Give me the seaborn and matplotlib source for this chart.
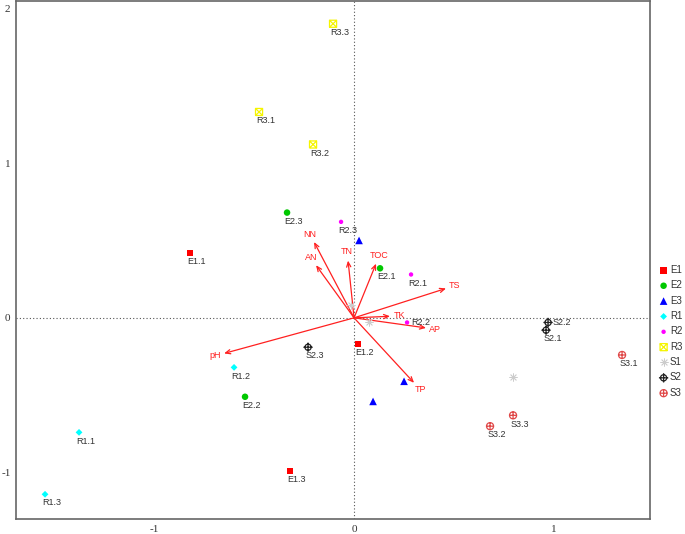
import numpy as np
import pandas as pd
import seaborn as sns
from matplotlib import pyplot as plt
from matplotlib.path import Path

# sample scores (RDA site scores)
groups = ['E1', 'E2', 'E3', 'R1', 'R2', 'R3', 'S1', 'S2', 'S3']

site_names = ['E1.1', 'E1.2', 'E1.3',
              'E2.1', 'E2.2', 'E2.3',
              '', '', '',
              'R1.1', 'R1.2', 'R1.3',
              'R2.1', 'R2.2', 'R2.3',
              'R3.1', 'R3.2', 'R3.3',
              '', '', '',
              'S2.1', 'S2.2', 'S2.3',
              'S3.1', 'S3.2', 'S3.3']
site_group = ['E1'] * 3 + ['E2'] * 3 + ['E3'] * 3 + ['R1'] * 3 + ['R2'] * 3 + \
             ['R3'] * 3 + ['S1'] * 3 + ['S2'] * 3 + ['S3'] * 3
site_x = [-0.82, 0.02, -0.32,
          0.13, -0.545, -0.335,
          0.025, 0.25, 0.095,
          -1.375, -0.60, -1.545,
          0.285, 0.265, -0.065,
          -0.475, -0.205, -0.105,
          -0.015, 0.075, 0.795,
          0.96, 0.97, -0.23,
          1.34, 0.68, 0.795]
site_y = [0.42, -0.17, -0.99,
          0.32, -0.51, 0.68,
          0.50, -0.41, -0.54,
          -0.74, -0.32, -1.14,
          0.28, -0.03, 0.62,
          1.33, 1.12, 1.90,
          0.08, -0.03, -0.38,
          -0.08, -0.03, -0.19,
          -0.24, -0.70, -0.63]

# environmental vectors
env_names = ['NN', 'AN', 'TN', 'TOC', 'TS', 'TK', 'AP', 'TP', 'pH']
env_x = [-0.20, -0.19, -0.03, 0.11, 0.46, 0.18, 0.36, 0.30, -0.65]
env_y = [0.49, 0.34, 0.37, 0.35, 0.19, 0.01, -0.065, -0.42, -0.23]

sites = pd.DataFrame({'name': site_names, 'group': site_group, 'x': site_x, 'y': site_y})

# marker shapes (R style pch 7, 9, 10)
box_x = Path.make_compound_path(
    Path([(-1, -1), (1, -1), (1, 1), (-1, 1), (-1, -1)]),
    Path([(-1, -1), (1, 1)]), Path([(-1, 1), (1, -1)]))
circ_plus = Path.make_compound_path(
    Path.unit_circle(), Path([(-1, 0), (1, 0)]), Path([(0, -1), (0, 1)]))
circ_plus_long = Path.make_compound_path(
    Path.unit_circle(), Path([(-1.5, 0), (1.5, 0)]), Path([(0, -1.5), (0, 1.5)]))

styles = {
    'E1': dict(marker='s', color='#FF0000', s=22, kind='fill'),
    'E2': dict(marker='o', color='#00C800', s=22, kind='fill'),
    'E3': dict(marker='^', color='#0000FF', s=30, kind='fill'),
    'R1': dict(marker='D', color='#00FFFF', s=12, kind='fill'),
    'R2': dict(marker='o', color='#FF00FF', s=10, kind='fill'),
    'R3': dict(marker=box_x, color='#F5F500', s=26, kind='open'),
    'S1': dict(marker=(8, 2, 0), color='#CCCCCC', s=28, kind='line'),
    'S2': dict(marker=circ_plus_long, color='#222222', s=45, kind='open'),
    'S3': dict(marker=circ_plus, color='#E04848', s=26, kind='open'),
}

sns.set_style('white')
plt.rcParams['axes.unicode_minus'] = False
fig, ax = plt.subplots(figsize=(6.85, 5.34), dpi=100)
fig.subplots_adjust(left=0.0234, right=0.949, bottom=0.028, top=0.999)

ax.axhline(0, color='#555555', lw=0.8, ls=(0, (1, 2)), zorder=0)
ax.axvline(0, color='#555555', lw=0.8, ls=(0, (1, 2)), zorder=0)

for g in groups:
    st = styles[g]
    d = sites[sites.group == g]
    if st['kind'] == 'fill':
        sns.scatterplot(data=d, x='x', y='y', marker=st['marker'], color=st['color'],
                        s=st['s'], edgecolor='none', linewidth=0, label=g, ax=ax, zorder=3)
    elif st['kind'] == 'line':
        sns.scatterplot(data=d, x='x', y='y', marker=st['marker'], color=st['color'],
                        s=st['s'], linewidth=0.6, label=g, ax=ax, zorder=3)
    else:
        sns.scatterplot(data=d, x='x', y='y', marker=st['marker'], s=st['s'],
                        facecolors='none', edgecolor=st['color'], linewidth=0.9,
                        label=g, ax=ax, zorder=3)

for _, r in sites.iterrows():
    if r['name'] == '':
        continue
    if r['name'] in ('S2.2', 'R2.2'):
        ax.annotate(r['name'], (r.x, r.y), xytext=(3, 0), textcoords='offset points',
                    ha='left', va='center', fontsize=6.5, color='#333333',
                    family='Liberation Sans')
    else:
        ax.annotate(r['name'], (r.x, r.y), xytext=(-2, -3), textcoords='offset points',
                    ha='left', va='top', fontsize=6.5, color='#333333',
                    family='Liberation Sans')

# arrows for environmental factors
for n, ex, ey in zip(env_names, env_x, env_y):
    ax.annotate('', xy=(ex, ey), xytext=(0, 0),
                arrowprops=dict(arrowstyle='->,head_length=0.35,head_width=0.15',
                                color='#FF2020', lw=0.9, shrinkA=0, shrinkB=0), zorder=2)
    px, py = ex * 200, ey * 155
    l = np.hypot(px, py)
    ax.annotate(n, (ex, ey), xytext=(6.5 * px / l, 6.5 * py / l), textcoords='offset points',
                ha='center', va='center', fontsize=6.5, color='#FF2020',
                family='Liberation Sans')

ax.set_xlim(-1.69, 1.48)
ax.set_ylim(-1.30, 2.05)
ax.set_xticks([-1, 0, 1])
ax.set_yticks([-1, 0, 1, 2])
ax.set_xlabel('')
ax.set_ylabel('')
ax.tick_params(axis='both', direction='out', length=3, width=0.8, color='#555555',
               labelsize=8, labelcolor='#333333', pad=1)
for lab in ax.get_xticklabels() + ax.get_yticklabels():
    lab.set_family('Liberation Serif')
for sp in ax.spines.values():
    sp.set_color('#666666')
    sp.set_linewidth(1.2)

ax.legend(loc='center left', bbox_to_anchor=(1.006, 0.362), frameon=False,
          borderaxespad=0, handletextpad=0.05, handlelength=1.2, labelspacing=0.55,
          prop={'family': 'Liberation Sans', 'size': 7}, labelcolor='#333333')

plt.savefig('out.png', dpi=100)
